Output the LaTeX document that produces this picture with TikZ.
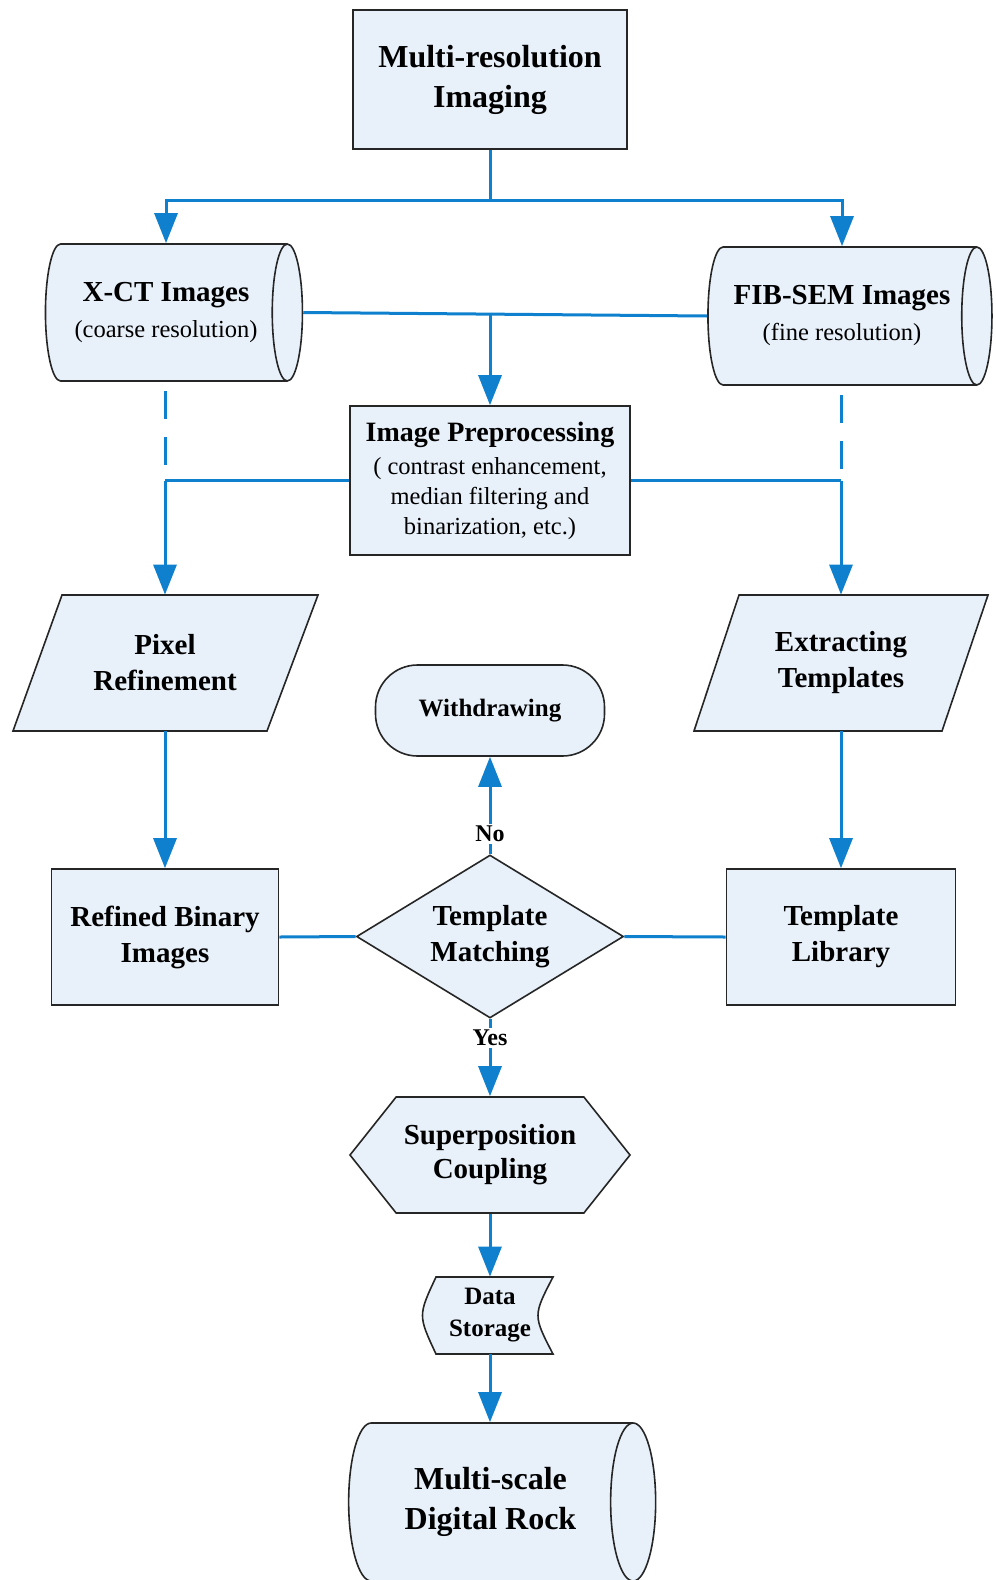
\documentclass[tikz,border=0pt]{standalone}
\usepackage{fontspec}
\setmainfont{Liberation Serif}
\usetikzlibrary{arrows.meta,shapes,calc}

\definecolor{boxfill}{RGB}{232,241,250}
\definecolor{flowblue}{RGB}{14,128,205}

\begin{document}
\begin{tikzpicture}[x=0.5pt,y=-0.5pt,
            box/.style={draw=black!85,line width=0.8pt,fill=boxfill,align=center,inner sep=0pt},
            plain/.style={align=center,inner sep=0pt},
            bigtxt/.style={font=\fontsize{16}{20}\selectfont\bfseries},
            midtxt/.style={font=\fontsize{14.5}{18}\selectfont\bfseries},
            smalltxt/.style={font=\fontsize{12.5}{16}\selectfont\bfseries},
            flow/.style={draw=flowblue,line width=1.5pt,-{Triangle[length=15pt,width=11.5pt]}},
            link/.style={draw=flowblue,line width=1.5pt},
            dashlink/.style={link,dash pattern=on 14pt off 9pt,dash phase=18.5pt},
            answer/.style={fill=white,inner sep=1pt,font=\fontsize{12}{14}\selectfont\bfseries}]
            \clip (0,0) rectangle (996,1580);
            \fill[white] (0,0) rectangle (996,1580);

            % imaging
            \node[box,bigtxt,minimum width=137pt,minimum height=69.5pt] (mri) at (490,79.5) {Multi-resolution\\Imaging};
            \node[box,cylinder,shape aspect=0.5,minimum height=128.5pt,minimum width=68.5pt,midtxt] (xct) at (166,312.5)
                {X-CT Images\\{\normalfont\fontsize{12.25}{15.5}\selectfont(coarse resolution)}};
            \node[box,cylinder,shape aspect=0.5,minimum height=142pt,minimum width=69pt,midtxt] (fib) at (842,316)
                {FIB-SEM Images\\{\normalfont\fontsize{12.25}{15.5}\selectfont(fine resolution)}};
            \node[box,minimum width=140pt,minimum height=74.5pt,font=\fontsize{12.25}{15}\selectfont] (prep) at (490,480.5)
                {{\fontsize{14}{15}\selectfont\bfseries Image Preprocessing}\\[1.5pt]
                 ( contrast enhancement,\\ median filtering and\\ binarization, etc.)};

            % processing
            \draw[box] (62,595) -- (318,595) -- (267,731) -- (13,731) -- cycle;
            \node[plain,minimum width=152pt,minimum height=68pt,midtxt] (pix) at (165,663) {Pixel\\Refinement};
            \draw[box] (739,595) -- (988,595) -- (942,731) -- (694,731) -- cycle;
            \node[plain,minimum width=147pt,minimum height=68pt,midtxt] (ext) at (841,663) {Extracting\\Templates};
            \node[box,rounded corners=21pt,minimum width=114.5pt,minimum height=45.5pt,smalltxt] (wd) at (490,710.5) {Withdrawing};
            \node[box,minimum width=113.5pt,minimum height=68pt,midtxt] (rbi) at (165,937) {Refined Binary\\Images};
            \node[box,minimum width=114.5pt,minimum height=68pt,midtxt] (lib) at (841,937) {Template\\Library};
            \node[box,diamond,aspect=1.64,minimum width=133.5pt,minimum height=81.5pt,midtxt] (tm) at (490,936.5) {Template\\Matching};

            % output
            \node[box,signal,signal to=west and east,signal pointer angle=103,minimum width=140pt,minimum height=58pt,
                  font=\fontsize{14.5}{17}\selectfont\bfseries] (sup) at (490,1155) {Superposition\\Coupling};
            \draw[box] (436,1277) -- (553,1277) .. controls (533,1315.5) .. (553,1354) -- (436,1354)
                  .. controls (418,1315.5) .. cycle;
            \node[plain,minimum width=63pt,minimum height=38.5pt,
                  font=\fontsize{12.5}{16}\selectfont\bfseries] (stor) at (490,1315.5) {Data\\Storage};
            \node[box,cylinder,shape aspect=0.65,minimum height=153.5pt,minimum width=79pt,bigtxt] (msdr) at (490.5,1502)
                {Multi-scale\\Digital Rock};

            % connectors
            \coordinate (split) at (mri.south |- 0,200);
            \draw[link] (mri.south) -- (split);
            \draw[flow] (split) -| (xct.north);
            \draw[flow] (split) -| (fib.north);
            \draw[link] (xct.east) -- (fib.west);
            \coordinate (mid) at (prep.north |- xct.east);
            \draw[flow] (mid) -- (prep.north);

            \coordinate (jl) at (pix.north |- prep.west);
            \coordinate (jr) at (ext.north |- prep.east);
            \draw[dashlink] (jl |- xct.south) -- (jl);
            \draw[dashlink] (jr |- fib.south) -- (jr);
            \draw[link] (prep.west) -- (jl);
            \draw[link] (prep.east) -- (jr);
            \draw[flow] (jl) -- (pix.north);
            \draw[flow] (jr) -- (ext.north);

            \draw[flow] (pix.south) -- (rbi.north);
            \draw[flow] (ext.south) -- (lib.north);
            \draw[link] (rbi.east) -- (tm.west);
            \draw[link] (tm.east) -- (lib.west);
            \draw[flow] (tm.north) -- node[answer,pos=0.21] (nolbl) {No} (wd.south);
            \draw[flow] (tm.south) -- node[answer,pos=0.25] (yeslbl) {Yes} (sup.north);
            \draw[flow] (sup.south) -- (stor.north);
            \draw[flow] (stor.south) -- (msdr.north -| stor.south);
        \end{tikzpicture}
\end{document}
